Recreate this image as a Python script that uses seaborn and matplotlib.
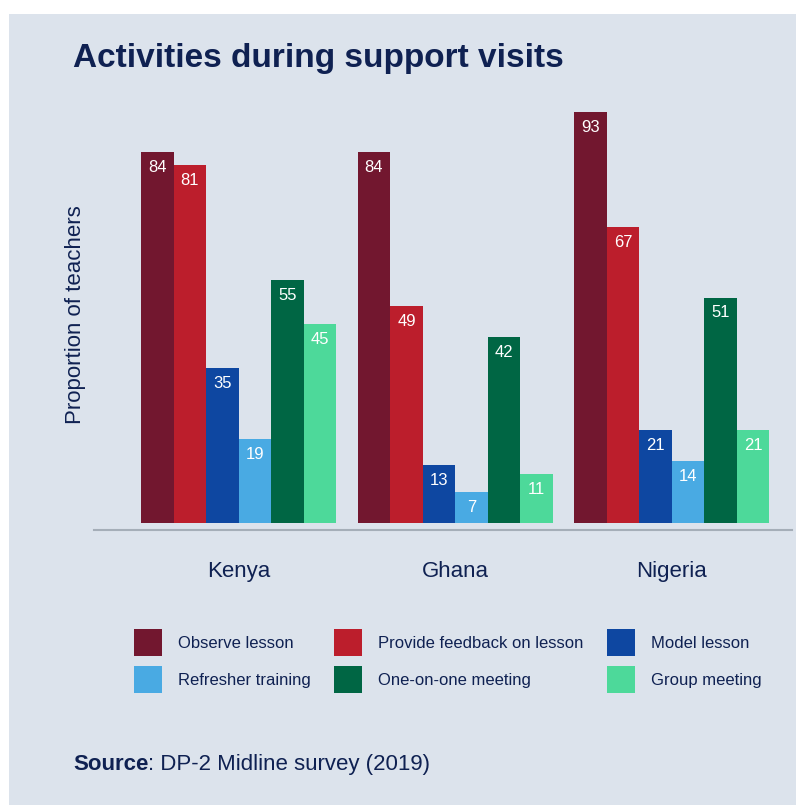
import matplotlib
matplotlib.use("Agg")
import matplotlib.pyplot as plt
from matplotlib.patches import Patch, Rectangle
import seaborn as sns
import pandas as pd

# Survey results: share of teachers reporting each activity during support visits
countries = ["Kenya", "Ghana", "Nigeria"]
activities = ["Observe lesson", "Provide feedback on lesson", "Model lesson",
              "Refresher training", "One-on-one meeting", "Group meeting"]
kenya = [84, 81, 35, 19, 55, 45]
ghana = [84, 49, 13, 7, 42, 11]
nigeria = [93, 67, 21, 14, 51, 21]
colors = ["#72172f", "#bc1e2c", "#0e47a1", "#49aae3", "#006644", "#4dd99a"]

title = "Activities during support visits"
ylabel = "Proportion of teachers"
source_label = "Source"
source_text = ": DP-2 Midline survey (2019)"

BG = "#dce3ec"
INK = "#0f2152"

rows = []
for country, vals in zip(countries, [kenya, ghana, nigeria]):
    for act, v in zip(activities, vals):
        rows.append({"country": country, "activity": act, "value": v})
df = pd.DataFrame(rows)

sns.set_style("white")
plt.rcParams["font.family"] = ["Liberation Sans", "DejaVu Sans"]

W, H = 796, 805
fig = plt.figure(figsize=(W / 100, H / 100), dpi=100, facecolor="white")

# light panel behind everything, leaving a thin white margin top and left
fig.patches.append(Rectangle((9 / W, 0), 1 - 9 / W, 1 - 14 / H,
                             transform=fig.transFigure, facecolor=BG,
                             edgecolor="none", zorder=-10))

ax = fig.add_axes([94 / W, 1 - 530 / H, 698 / W, 430 / H])
ax.set_facecolor("none")

sns.barplot(data=df, x="country", y="value", hue="activity",
            hue_order=activities, order=countries, palette=colors,
            width=0.9, gap=0, saturation=1, legend=False, ax=ax,
            linewidth=0, errorbar=None)

ax.set_xlim(-0.667, 2.554)
ax.set_ylim(-1.654, 95.8)

for side in ["top", "right", "left"]:
    ax.spines[side].set_visible(False)
ax.spines["bottom"].set_color("#a5aeb8")
ax.spines["bottom"].set_linewidth(1.5)
ax.set_yticks([])
ax.set_xlabel("")
ax.tick_params(axis="x", length=0, pad=22, labelsize=16, labelcolor=INK)

ax.set_ylabel(ylabel, fontsize=16, color=INK)
ax.yaxis.set_label_coords(-0.0115, 0.5)

# value labels inside the top of each bar
for container in ax.containers:
    for bar in container:
        h = bar.get_height()
        ax.annotate(f"{h:.0f}", xy=(bar.get_x() + bar.get_width() / 2, h),
                    xytext=(0, -14.2), textcoords="offset points",
                    ha="center", va="baseline", fontsize=12, color="white")

fig.text(73 / W, 1 - 67 / H, title, fontsize=24, fontweight="bold",
         color=INK, va="baseline", ha="left")

# legend laid out row-wise in three columns
handles = [Patch(facecolor=c, edgecolor="none", label=a)
           for a, c in zip(activities, colors)]
order = [0, 3, 1, 4, 2, 5]
fig.legend([handles[i] for i in order], [activities[i] for i in order],
           ncol=3, loc="upper left", bbox_to_anchor=(134 / W, 1 - 629 / H),
           frameon=False, fontsize=12, handlelength=1.68, handleheight=2.1,
           handletextpad=0.96, columnspacing=1.42, labelspacing=0.63,
           borderpad=0, borderaxespad=0, labelcolor=INK)

t1 = fig.text(73 / W, 1 - 775 / H, source_label, fontsize=16,
              fontweight="bold", color=INK, va="bottom", ha="left")
ax.annotate(source_text, xy=(1, 0), xycoords=t1, va="bottom", ha="left",
            fontsize=16, color=INK)

fig.savefig("out.png", dpi=100, facecolor="white")
